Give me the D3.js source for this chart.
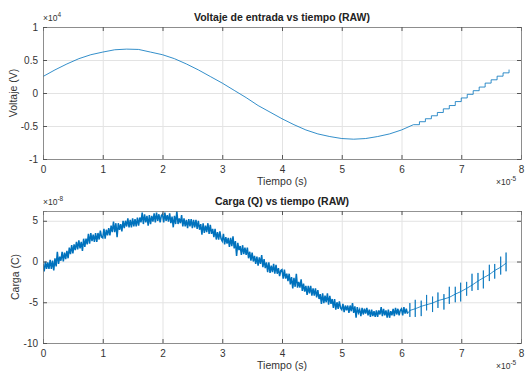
<!DOCTYPE html>
<html>
<head>
<meta charset="utf-8">
<script src="https://cdn.jsdelivr.net/npm/d3@7"></script>
<style>
body { margin: 0; background: #fff; }
text { font-family: "Liberation Sans", Arial, sans-serif; }
</style>
</head>
<body>
<svg id="chart" width="531" height="381"></svg>
<script>
// units: time x1e-5 s, voltage x1e4 V, charge x1e-8 C
var xTicks = [0, 1, 2, 3, 4, 5, 6, 7, 8];
var vTicks = [-1, -0.5, 0, 0.5, 1];
var qTicks = [-10, -5, 0, 5];

// voltage, smooth part
var voltT = [0, 0.2, 0.4, 0.6, 0.8, 1.0, 1.2, 1.4, 1.6, 1.8, 2.0, 2.2, 2.4, 2.6, 2.8, 3.0,
  3.2, 3.4, 3.6, 3.8, 4.0, 4.2, 4.4, 4.6, 4.8, 5.0, 5.2, 5.4, 5.6, 5.8, 6.0, 6.2];
var voltV = [0.25, 0.35, 0.44, 0.52, 0.58, 0.62, 0.655, 0.665, 0.66, 0.62, 0.58, 0.52, 0.44, 0.35, 0.25, 0.15,
  0.04, -0.07, -0.19, -0.29, -0.39, -0.48, -0.56, -0.62, -0.66, -0.69, -0.70, -0.69, -0.66, -0.62, -0.56, -0.48];
// voltage, staircase at the end
var stairT = [6.2, 6.3, 6.4, 6.5, 6.6, 6.7, 6.8, 6.9, 7.0, 7.1, 7.2, 7.3, 7.4, 7.5, 7.6, 7.7, 7.8];
var stairV = [-0.48, -0.435, -0.39, -0.345, -0.295, -0.24, -0.19, -0.13, -0.075, -0.02, 0.035, 0.09, 0.15, 0.2, 0.255, 0.305, 0.355];

// charge, dense noisy part (one sample every 0.02, from t = 0 to 6.1)
var qDenseStep = 0.02;
var qDense = [
  -0.3, -1.2, 0.0, -0.9, -0.1,   -0.9, 0.2, -0.9, 0.1, -1.1,   0.4, -0.6, 1.2, -0.3, 0.6,
  0.1, 1.2, 0.0, 1.1, 0.3,   1.3, 0.4, 1.7, 0.9, 2.0,   1.0, 2.1, 1.4, 2.4, 1.5,
  2.6, 1.6, 2.4, 1.3, 2.8,   1.8, 2.8, 2.1, 3.4, 2.2,   3.5, 2.5, 3.3, 2.4, 3.5,
  2.4, 3.5, 2.7, 3.8, 3.0,   2.9, 4.0, 2.8, 3.9, 3.2,   4.1, 3.2, 4.4, 3.6, 4.9,
  3.6, 4.7, 3.0, 4.7, 3.9,   4.6, 3.7, 5.0, 4.1, 5.0,   4.3, 5.3, 4.2, 5.1, 4.2,
  5.3, 4.3, 5.2, 4.3, 5.4,   4.4, 5.4, 4.8, 6.0, 4.6,   5.8, 4.8, 5.6, 4.4, 5.7,
  4.6, 5.6, 4.9, 5.9, 4.8,   6.0, 5.0, 5.8, 4.8, 5.6,   5.8, 4.8, 6.0, 5.0, 5.7,
  4.9, 5.9, 4.7, 5.5, 4.2,   5.6, 4.6, 6.2, 4.6, 5.3,   4.7, 5.7, 4.3, 5.3, 4.3,
  5.1, 4.1, 5.2, 4.3, 5.2,   4.1, 5.1, 4.2, 5.1, 4.0,   5.0, 3.9, 4.6, 3.3, 4.7,
  3.5, 4.4, 3.6, 4.7, 3.4,   4.5, 3.4, 4.0, 3.0, 4.0,   2.7, 3.6, 2.7, 3.7, 2.8,
  2.5, 3.4, 2.1, 3.0, 2.2,   2.9, 1.8, 2.9, 1.9, 3.1,   1.6, 2.5, 0.7, 2.3, 1.4,
  1.9, 0.8, 2.0, 0.9, 1.7,   0.8, 1.7, 0.4, 1.2, 0.1,   1.1, 0.0, 0.7, -0.3, 0.6,
  -0.5, 0.5, -0.3, 0.8, -0.7,   0.3, -0.8, -0.1, -1.3, -0.1,   -1.4, -0.5, -1.3, -0.3, -1.5,
  -0.4, -1.5, -0.8, -1.8, -1.1,   -1.0, -2.1, -1.0, -2.1, -1.5,   -2.4, -1.5, -2.8, -1.9, -3.3,
  -2.0, -3.1, -1.5, -3.2, -2.5,   -3.2, -2.2, -3.6, -2.7, -3.7,   -3.0, -4.1, -3.0, -3.9, -3.0,
  -4.2, -3.3, -4.2, -3.3, -4.4,   -3.5, -4.6, -4.0, -5.2, -3.9,   -5.1, -4.2, -5.0, -3.9, -5.3,
  -4.2, -5.2, -4.6, -5.7, -4.6,   -5.9, -5.0, -5.8, -4.9, -5.7,   -5.9, -5.2, -6.2, -5.4, -6.0,
  -5.4, -6.3, -5.4, -6.1, -5.1,   -6.3, -5.5, -6.9, -5.6, -6.3,   -5.9, -6.7, -5.7, -6.5, -5.8,
  -6.4, -5.7, -6.6, -5.9, -6.8,   -5.9, -6.7, -6.1, -6.8, -6.0,   -6.8, -6.0, -6.5, -5.6, -6.7,
  -5.8, -6.6, -6.0, -6.9, -5.9,   -6.9, -6.1, -6.6, -5.8, -6.7,   -5.7, -6.5, -5.8, -6.6, -6.0,
  -5.8, -6.6, -5.6, -6.4, -5.8,   -6.4
];
// charge, sparse part with spikes
var qStepT = [6.14, 6.23, 6.33, 6.42, 6.52, 6.61, 6.71, 6.80, 6.90, 6.99, 7.09, 7.18, 7.28, 7.37, 7.47, 7.56, 7.66, 7.75];
var qStepV = [-6.0, -5.8, -5.5, -5.3, -5.1, -4.8, -4.6, -4.4, -4.0, -3.7, -3.3, -2.9, -2.4, -2.0, -1.6, -1.1, -0.7, -0.2];
var qSpikeUp = [0.9, 1.1, 0.7, 1.2, 0.8, 1.0, 0.6, 1.3, 0.9, 1.1, 0.8, 1.4, 1.0, 0.9, 1.2, 0.8, 1.3, 1.3];
var qSpikeDown = [0.8, 1.0, 1.2, 0.7, 1.1, 0.9, 1.3, 0.8, 1.0, 1.2, 0.9, 0.7, 1.1, 1.3, 0.8, 1.0, 0.9, 1.0];

var lineColor = "#0072BD";
var svg = d3.select("#chart");
var x = d3.scaleLinear().domain([0, 8]).range([43, 521]);

function drawPanel(p) {
  var y = d3.scaleLinear().domain(p.yDomain).range([p.bottom, p.top]);
  var g = svg.append("g");
  var h = p.bottom - p.top;
  var w = 521 - 43;

  // grid
  g.append("g").attr("transform", "translate(0," + p.bottom + ")")
    .call(d3.axisBottom(x).tickValues(xTicks).tickSize(-h).tickFormat(""))
    .call(s => s.select(".domain").remove())
    .selectAll("line").attr("stroke", "#e3e3e3");
  g.append("g").attr("transform", "translate(43,0)")
    .call(d3.axisLeft(y).tickValues(p.yTicks).tickSize(-w).tickFormat(""))
    .call(s => s.select(".domain").remove())
    .selectAll("line").attr("stroke", "#e3e3e3");

  var clip = "clip" + p.top;
  g.append("clipPath").attr("id", clip).append("rect")
    .attr("x", 43).attr("y", p.top).attr("width", w).attr("height", h);
  var data = g.append("g").attr("clip-path", "url(#" + clip + ")");
  p.draw(data, y);

  // box with inward ticks
  var axB = g.append("g").attr("transform", "translate(0," + p.bottom + ")")
    .call(d3.axisBottom(x).tickValues(xTicks).tickSize(-4).tickPadding(7).tickFormat(d => String(d)));
  var axT = g.append("g").attr("transform", "translate(0," + p.top + ")")
    .call(d3.axisTop(x).tickValues(xTicks).tickSize(-4).tickFormat(""));
  var axL = g.append("g").attr("transform", "translate(43,0)")
    .call(d3.axisLeft(y).tickValues(p.yTicks).tickSize(-4).tickPadding(5).tickFormat(d => String(d)));
  var axR = g.append("g").attr("transform", "translate(521,0)")
    .call(d3.axisRight(y).tickValues(p.yTicks).tickSize(-4).tickFormat(""));
  [axB, axT, axL, axR].forEach(function(a) {
    a.select(".domain").attr("stroke", "#777").attr("stroke-width", 0.8);
    a.selectAll(".tick line").attr("stroke", "#555");
  });
  [axB, axL].forEach(a => a.selectAll("text").attr("font-size", 10).attr("fill", "#333")
    .attr("font-family", "Liberation Sans, Arial, sans-serif"));

  // texts
  g.append("text").attr("x", 282).attr("y", p.top - 6).attr("text-anchor", "middle")
    .attr("font-size", 10.5).attr("font-weight", "bold").attr("fill", "#222").text(p.title);
  g.append("text").attr("x", 282).attr("y", p.bottom + 26).attr("text-anchor", "middle")
    .attr("font-size", 10.5).attr("fill", "#333").text("Tiempo (s)");
  g.append("text").attr("transform", "translate(" + p.ylabX + "," + ((p.top + p.bottom) / 2) + ") rotate(-90)")
    .attr("text-anchor", "middle").attr("font-size", 10.5).attr("fill", "#333").text(p.ylabel);

  var ex = g.append("text").attr("x", 43).attr("y", p.top - 6).attr("font-size", 8.5).attr("fill", "#333");
  ex.append("tspan").text("\u00d710");
  ex.append("tspan").attr("dy", -4).attr("font-size", 6.5).text(p.yExp);
  var ex2 = g.append("text").attr("x", 496).attr("y", p.bottom + 26).attr("font-size", 8.5).attr("fill", "#333");
  ex2.append("tspan").text("\u00d710");
  ex2.append("tspan").attr("dy", -4).attr("font-size", 6.5).text("-5");
}

drawPanel({
  top: 27, bottom: 159, yDomain: [-1, 1], yTicks: vTicks,
  title: "Voltaje de entrada vs tiempo (RAW)", ylabel: "Voltaje (V)", ylabX: 17, yExp: "4",
  draw: function(g, y) {
    var smooth = voltT.map((t, i) => [t, voltV[i]]);
    var stairs = stairT.map((t, i) => [t, stairV[i]]);
    g.append("path").datum(smooth)
      .attr("d", d3.line().x(d => x(d[0])).y(d => y(d[1])))
      .attr("fill", "none").attr("stroke", lineColor).attr("stroke-width", 0.8);
    g.append("path").datum(stairs)
      .attr("d", d3.line().curve(d3.curveStepAfter).x(d => x(d[0])).y(d => y(d[1])))
      .attr("fill", "none").attr("stroke", lineColor).attr("stroke-width", 0.8);
  }
});

drawPanel({
  top: 211, bottom: 343, yDomain: [-10, 6.2], yTicks: qTicks,
  title: "Carga (Q) vs tiempo (RAW)", ylabel: "Carga (C)", ylabX: 19, yExp: "-8",
  draw: function(g, y) {
    var line = d3.line().x(d => x(d[0])).y(d => y(d[1]));
    var dense = qDense.map((v, i) => [i * qDenseStep, v]);
    var sparse = [dense[dense.length - 1]];
    qStepT.forEach(function(t, i) {
      var v = qStepV[i];
      sparse.push([t, v], [t, v + qSpikeUp[i]], [t, v - qSpikeDown[i]], [t, v]);
    });
    g.append("path").datum(dense).attr("d", line)
      .attr("fill", "none").attr("stroke", lineColor).attr("stroke-width", 1.5);
    g.append("path").datum(sparse).attr("d", line)
      .attr("fill", "none").attr("stroke", lineColor).attr("stroke-width", 0.8);
  }
});
</script>
</body>
</html>
